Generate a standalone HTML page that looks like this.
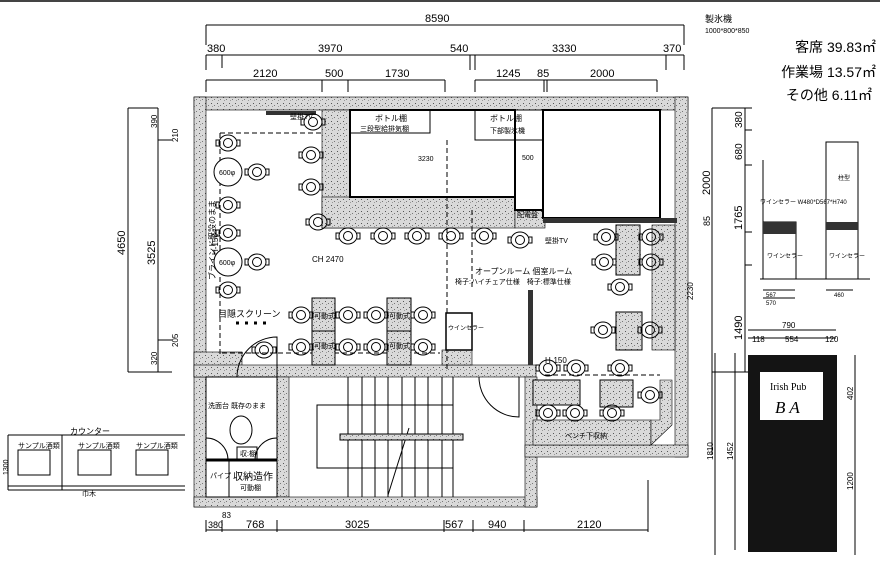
<!DOCTYPE html>
<html><head><meta charset="utf-8">
<style>
html,body{margin:0;padding:0;background:#fff;}
svg{display:block;font-family:"Liberation Sans","Noto Sans CJK JP",sans-serif;}
</style></head>
<body>
<svg width="880" height="568" viewBox="0 0 880 568" xmlns="http://www.w3.org/2000/svg">
<defs>
<pattern id="st" width="6" height="6" patternUnits="userSpaceOnUse">
<rect width="6" height="6" fill="#d9d9d9"/>
<rect x="1" y="1" width="1" height="1" fill="#555"/>
<rect x="4" y="3" width="1" height="1" fill="#777"/>
<rect x="2" y="4" width="1" height="1" fill="#999"/>
</pattern>
<g id="c" fill="none" stroke="#000" stroke-width="1">
<ellipse rx="9" ry="8"/><circle r="4.5"/><path d="M-9,-3 h-3 v6 h3 M9,-3 h3 v6 h-3"/>
</g>
</defs>
<rect width="880" height="568" fill="#fff"/>
<line x1="0" y1="1" x2="880" y2="1" stroke="#444" stroke-width="2"/>

<!-- top dimensions -->
<g stroke="#000" stroke-width="1" fill="none">
<path d="M206,25 H684 M206,25 V45 M684,25 V45"/>
<path d="M206,55 H684 M206,55 V70 M222,55 V68 M470,55 V70 M475,55 V70 M666,55 V70 M684,55 V70"/>
<path d="M206,80 H445 M206,80 V92 M322,80 V92 M348,80 V92 M445,80 V92"/>
<path d="M475,80 H657 M475,80 V92 M544,80 V92 M547,80 V92 M657,80 V92"/>
</g>
<g font-size="11" fill="#000">
<text x="425" y="22">8590</text>
<text x="207" y="52">380</text><text x="318" y="52">3970</text><text x="450" y="52">540</text><text x="552" y="52">3330</text><text x="663" y="52">370</text>
<text x="253" y="77">2120</text><text x="325" y="77">500</text><text x="385" y="77">1730</text>
<text x="496" y="77">1245</text><text x="537" y="77">85</text><text x="590" y="77">2000</text>
</g>

<!-- left dims -->
<g stroke="#000" fill="none">
<path d="M128,108 V372 M128,108 H158 M128,372 H160"/>
<path d="M158,108 V372 M158,140 H172 M158,340 H172 M158,372 H172"/>
</g>
<g font-size="11" fill="#000">
<text transform="translate(125,255) rotate(-90)">4650</text>
<text transform="translate(155,265) rotate(-90)">3525</text>
<text font-size="8" transform="translate(157,128) rotate(-90)">390</text>
<text font-size="8" transform="translate(178,142) rotate(-90)">210</text>
<text font-size="8" transform="translate(157,365) rotate(-90)">320</text>
<text font-size="8" transform="translate(178,347) rotate(-90)">205</text>
</g>

<!-- walls -->
<g fill="url(#st)" stroke="#000" stroke-width="0.6">
<rect x="194" y="97" width="494" height="13"/>
<rect x="194" y="97" width="12" height="410"/>
<rect x="675" y="97" width="13" height="360"/>
<rect x="194" y="352" width="48" height="25"/>
<rect x="194" y="365" width="342" height="12"/>
<rect x="277" y="377" width="12" height="120"/>
<rect x="194" y="497" width="343" height="10"/>
<rect x="525" y="377" width="12" height="130"/>
<rect x="525" y="445" width="163" height="12"/>
<rect x="652" y="225" width="23" height="125"/>
<rect x="322" y="110" width="28" height="118"/>
<rect x="322" y="197" width="193" height="31"/>
<rect x="515" y="210" width="30" height="18"/>
<rect x="533" y="420" width="118" height="25"/>
<path d="M651,445 L672,425 V380 H660 V420 L651,420 Z"/>
<rect x="442" y="350" width="30" height="15"/>
</g>
<!-- kitchen block -->
<rect x="350" y="110" width="165" height="87" fill="#fff" stroke="#000" stroke-width="2"/>
<path d="M515,197 V210 H543" fill="none" stroke="#000" stroke-width="2"/>
<rect x="350" y="110" width="80" height="23" fill="none" stroke="#000"/>
<rect x="475" y="110" width="68" height="30" fill="none" stroke="#000"/>
<rect x="543" y="110" width="117" height="108" fill="#fff" stroke="#000" stroke-width="2"/>
<rect x="543" y="218" width="134" height="5" fill="#333"/>
<rect x="266" y="111" width="50" height="4" fill="#333"/>
<g font-size="8" fill="#000">
<text x="375" y="121">ボトル棚</text><text x="360" y="131" font-size="7">三段型給排気棚</text>
<text x="490" y="121">ボトル棚</text><text x="490" y="133" font-size="7">下部製氷機</text>
<text x="418" y="161" font-size="7">3230</text><text x="522" y="160" font-size="7">500</text>
<text x="290" y="119" font-size="7">壁掛TV</text>
<text x="545" y="243" font-size="7">壁掛TV</text>
<text x="517" y="217" font-size="7">配電盤</text>
<text x="312" y="262" font-size="8">CH 2470</text>
<text x="475" y="274" font-size="8">オープンルーム 個室ルーム</text>
<text x="455" y="284" font-size="7">椅子:ハイチェア仕様　椅子:標準仕様</text>
<text x="218" y="317" font-size="9">目隠スクリーン</text>
<text transform="translate(215,280) rotate(-90)" font-size="8">ブラインド既設のまま</text>
<text transform="translate(218,255) rotate(-90)" font-size="8">H-150</text>
<text x="545" y="363" font-size="8">H-150</text>
<text x="555" y="397" font-size="7">可動式</text>
<text x="565" y="438" font-size="7">ベンチ下収納</text>
<text x="620" y="255" font-size="7">可動式</text>
</g>
<!-- dashed lines -->
<g stroke="#000" stroke-dasharray="5,3" fill="none">
<path d="M447,140 V372 M472,210 V290 M220,133 H322 M220,133 V355 M222,353 H440 M545,375 H660"/>
</g>
<!-- partition -->
<rect x="528" y="290" width="5" height="75" fill="#333"/>
<rect x="446" y="313" width="26" height="37" fill="#fff" stroke="#000" stroke-width="1.5"/>
<text x="448" y="330" font-size="6">ウインセラー</text>
<line x1="236" y1="323" x2="268" y2="323" stroke="#000" stroke-dasharray="3,6" stroke-width="3"/>

<!-- tables -->
<g fill="url(#st)" stroke="#000">
<rect x="312" y="298" width="23" height="33"/><rect x="312" y="331" width="23" height="34"/>
<rect x="387" y="298" width="24" height="33"/><rect x="387" y="331" width="24" height="34"/>
<rect x="616" y="225" width="24" height="50"/>
<rect x="616" y="312" width="26" height="38"/>
<rect x="533" y="380" width="47" height="25"/>
<rect x="600" y="380" width="33" height="27"/>
</g>
<g font-size="7"><text x="314" y="318">可動式</text><text x="314" y="348">可動式</text><text x="389" y="318">可動式</text><text x="389" y="348">可動式</text></g>
<g fill="#fff" stroke="#000">
<circle cx="228" cy="172" r="14"/><circle cx="228" cy="262" r="14"/>
</g>
<text x="219" y="175" font-size="7">600φ</text><text x="219" y="265" font-size="7">600φ</text>

<!-- chairs -->
<g>
<use href="#c" x="228" y="143"/><use href="#c" x="257" y="172"/><use href="#c" x="228" y="205"/>
<use href="#c" x="228" y="233"/><use href="#c" x="257" y="262"/><use href="#c" x="228" y="290"/>
<use href="#c" x="313" y="122"/><use href="#c" x="311" y="155"/><use href="#c" x="311" y="187"/><use href="#c" x="318" y="222"/>
<use href="#c" x="348" y="236"/><use href="#c" x="383" y="236"/><use href="#c" x="417" y="236"/><use href="#c" x="451" y="236"/><use href="#c" x="484" y="236"/><use href="#c" x="520" y="240"/>
<use href="#c" x="301" y="315"/><use href="#c" x="348" y="315"/><use href="#c" x="301" y="347"/><use href="#c" x="348" y="347"/>
<use href="#c" x="376" y="315"/><use href="#c" x="423" y="315"/><use href="#c" x="376" y="347"/><use href="#c" x="423" y="347"/>
<use href="#c" x="264" y="350"/>
<use href="#c" x="606" y="237"/><use href="#c" x="604" y="262"/><use href="#c" x="620" y="287"/><use href="#c" x="651" y="237"/><use href="#c" x="651" y="262"/>
<use href="#c" x="603" y="330"/><use href="#c" x="650" y="330"/>
<use href="#c" x="548" y="368"/><use href="#c" x="576" y="368"/><use href="#c" x="620" y="368"/>
<use href="#c" x="548" y="413"/><use href="#c" x="575" y="413"/><use href="#c" x="612" y="413"/><use href="#c" x="650" y="395"/>
</g>
<!-- door arcs -->
<g fill="none" stroke="#000">
<path d="M237,377 A40,40 0 0 1 277,337 V377"/>
<path d="M479,377 A40,40 0 0 0 519,417 V377"/>
</g>

<!-- toilet -->
<g fill="none" stroke="#000">
<rect x="206" y="377" width="71" height="120"/>
<ellipse cx="241" cy="430" rx="11" ry="14"/>
<path d="M206,438 A22,22 0 0 1 228,460 M277,438 A22,22 0 0 0 255,460"/>
<rect x="237" y="447" width="20" height="12"/>
<line x1="206" y1="460" x2="277" y2="460" stroke-width="3"/>
<line x1="229" y1="460" x2="229" y2="497"/>
</g>
<g font-size="7"><text x="208" y="408">洗面台 既存のまま</text><text x="240" y="456">収:棚</text>
<text x="210" y="478">パイプ</text><text x="233" y="480" font-size="10">収納造作</text><text x="240" y="490">可動棚</text></g>

<!-- stairs -->
<g fill="none" stroke="#000">
<rect x="317" y="405" width="136" height="63"/>
<path d="M348,377 V497 M362,377 V497 M375,377 V497 M388,377 V497 M402,377 V497 M415,377 V497 M428,377 V497 M442,377 V497 M453,377 V497"/>
<path d="M409,428 L388,495" />
</g>
<rect x="340" y="434" width="123" height="6" fill="url(#st)" stroke="#000"/>

<!-- bottom dims -->
<g stroke="#000" fill="none"><path d="M206,530 H648 M206,520 V532 M222,520 V532 M277,520 V532 M444,520 V532 M473,520 V532 M524,520 V532 M648,480 V532"/></g>
<g font-size="11"><text x="208" y="528" font-size="9">380</text><text x="222" y="518" font-size="8">83</text><text x="246" y="528">768</text><text x="345" y="528">3025</text><text x="445" y="528">567</text><text x="488" y="528">940</text><text x="577" y="528">2120</text></g>

<!-- right vertical dims -->
<g stroke="#000" fill="none">
<path d="M712,108 V455 M745,108 V372 M712,108 H752 M745,130 H752 M745,165 H752 M745,232 H752 M745,265 H752 M712,372 H752"/>
</g>
<g font-size="11">
<text transform="translate(742,128) rotate(-90)" font-size="10">380</text>
<text transform="translate(742,160) rotate(-90)" font-size="10">680</text>
<text transform="translate(710,195) rotate(-90)">2000</text>
<text transform="translate(742,230) rotate(-90)">1765</text>
<text transform="translate(710,226) rotate(-90)" font-size="9">85</text>
<text transform="translate(742,340) rotate(-90)">1490</text>
<text transform="translate(693,300) rotate(-90)" font-size="8">2230</text>
</g>

<!-- right top text -->
<g fill="#000">
<text x="705" y="22" font-size="9">製氷機</text>
<text x="705" y="33" font-size="7">1000*800*850</text>
<text x="876" y="52" font-size="14" text-anchor="end">客席 39.83㎡</text>
<text x="876" y="77" font-size="14" text-anchor="end">作業場 13.57㎡</text>
<text x="872" y="100" font-size="14" text-anchor="end">その他 6.11㎡</text>
</g>
<!-- window units -->
<g fill="none" stroke="#000">
<rect x="763" y="222" width="33" height="57"/>
<rect x="826" y="142" width="32" height="137"/>
<line x1="760" y1="279" x2="870" y2="279"/>
<line x1="763" y1="160" x2="763" y2="279"/>
<path d="M763,290 H795 M763,298 H795 M826,290 H853"/>
</g>
<rect x="763" y="222" width="33" height="12" fill="#333"/>
<rect x="826" y="222" width="32" height="8" fill="#333"/>
<g font-size="6"><text x="760" y="204">ワインセラー W480*D567*H740</text><text x="838" y="180">柱型</text>
<text x="767" y="258">ワインセラー</text><text x="829" y="258">ワインセラー</text><text x="766" y="297">567</text><text x="766" y="305">570</text><text x="834" y="297">460</text></g>

<!-- sign -->
<g stroke="#000" fill="none"><path d="M748,330 H836 M748,338 H836 M715,353 V555 M735,353 V550 M855,355 V555"/></g>
<g font-size="8"><text x="782" y="328">790</text><text x="752" y="342">118</text><text x="785" y="342">554</text><text x="825" y="342">120</text>
<text transform="translate(713,460) rotate(-90)">1810</text><text transform="translate(733,460) rotate(-90)">1452</text>
<text transform="translate(853,490) rotate(-90)">1200</text><text transform="translate(853,400) rotate(-90)">402</text></g>
<rect x="748" y="355" width="89" height="197" fill="#141414"/>
<rect x="760" y="372" width="63" height="48" fill="#fff"/>
<text x="770" y="390" font-family="Liberation Serif,serif" font-size="10">Irish Pub</text>
<text x="775" y="413" font-family="Liberation Serif,serif" font-style="italic" font-size="17">B A</text>

<!-- counter elevation -->
<g fill="none" stroke="#000">
<path d="M8,435 H185 M8,490 H185 M8,486 H185 M8,435 V490 M62,435 V490"/>
<rect x="18" y="450" width="32" height="25"/><rect x="78" y="450" width="33" height="25"/><rect x="136" y="450" width="32" height="25"/>
</g>
<g font-size="7"><text x="70" y="434" font-size="8">カウンター</text><text x="18" y="448">サンプル酒類</text><text x="78" y="448">サンプル酒類</text><text x="136" y="448">サンプル酒類</text>
<text transform="translate(8,475) rotate(-90)">1300</text><text x="82" y="496">巾木</text></g>
</svg>
</body></html>
